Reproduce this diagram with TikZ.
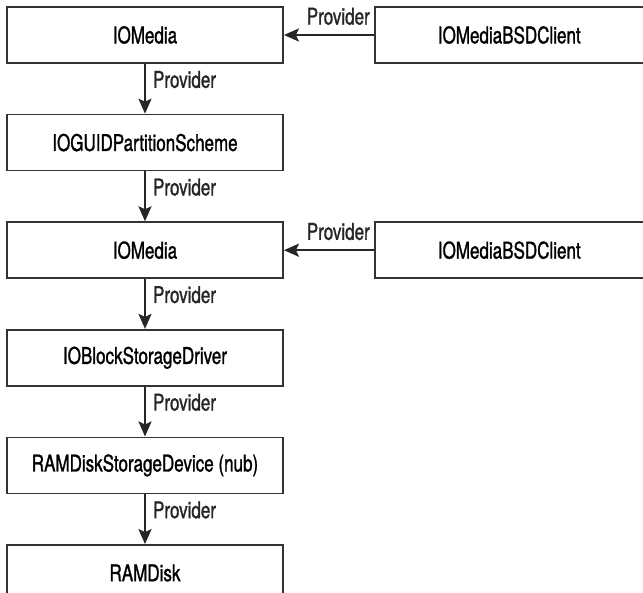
\documentclass[tikz,border=0pt]{standalone}
\usepackage{fontspec}
\setmainfont{TeX Gyre Heros}[FakeStretch=0.74,FakeBold=1.2]
\usetikzlibrary{positioning,arrows.meta}

\begin{document}
\begin{tikzpicture}[
   node distance=24.9pt,
   layer/.style={draw=black!80,line width=0.9pt,minimum width=138pt,minimum height=28pt,align=center,font=\fontsize{11.5}{13}\selectfont},
   dep/.style={-{Stealth[length=7.5pt,width=6.5pt,inset=1.5pt]},line width=1.1pt,black!85},
   lbl/.style={font=\fontsize{11.5}{13}\selectfont,inner sep=1.5pt},
]
\useasboundingbox (-72.5pt,17.5pt) rectangle (249pt,-279pt);
\node[layer] (media) at (0,0) {IOMedia};
\node[layer,below=of media] (guid) {IOGUIDPartitionScheme};
\node[layer,below=of guid] (media2) {IOMedia};
\node[layer,below=of media2] (blkdrv) {IOBlockStorageDriver};
\node[layer,below=of blkdrv] (ramdev) {RAMDiskStorageDevice (nub)};
\node[layer,below=of ramdev] (ramdisk) {RAMDisk};
\node[layer,minimum width=134.5pt,right=45pt of media] (client) {IOMediaBSDClient};
\node[layer,minimum width=134.5pt,right=45pt of media2] (client2) {IOMediaBSDClient};

\draw[dep] (client.west) node[lbl,anchor=south east,yshift=3pt] {Provider} -- (media.east);
\draw[dep] (client2.west) node[lbl,anchor=south east,yshift=3pt] {Provider} -- (media2.east);
\draw[dep] (media.south) node[lbl,anchor=north west,xshift=2pt,yshift=-1.5pt] {Provider} -- (guid.north);
\draw[dep] (guid.south) node[lbl,anchor=north west,xshift=2pt,yshift=-1.5pt] {Provider} -- (media2.north);
\draw[dep] (media2.south) node[lbl,anchor=north west,xshift=2pt,yshift=-1.5pt] {Provider} -- (blkdrv.north);
\draw[dep] (blkdrv.south) node[lbl,anchor=north west,xshift=2pt,yshift=-1.5pt] {Provider} -- (ramdev.north);
\draw[dep] (ramdev.south) node[lbl,anchor=north west,xshift=2pt,yshift=-1.5pt] {Provider} -- (ramdisk.north);
\end{tikzpicture}
\end{document}
